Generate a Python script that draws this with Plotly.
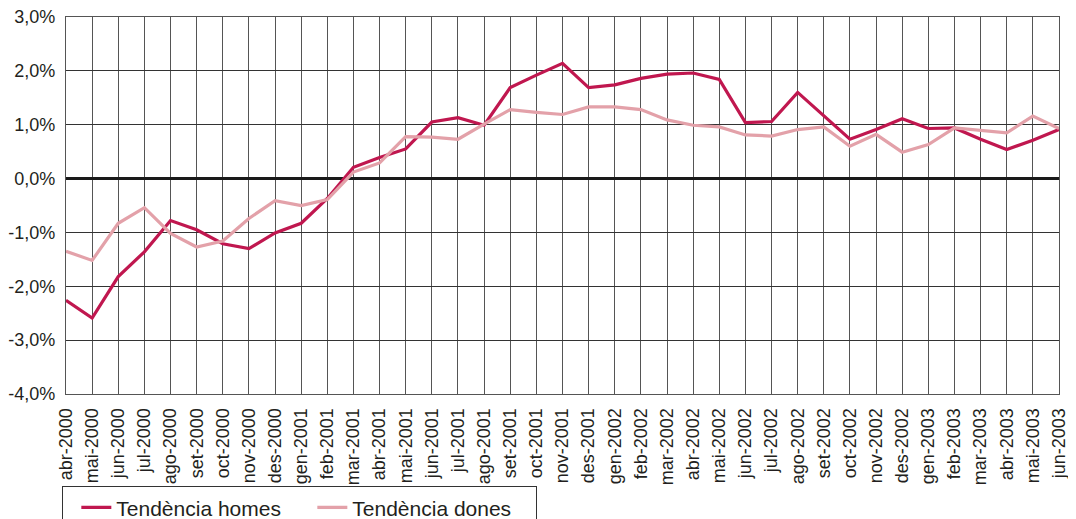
import plotly.graph_objects as go

months = ["abr-2000","mai-2000","jun-2000","jul-2000","ago-2000","set-2000","oct-2000","nov-2000","des-2000",
          "gen-2001","feb-2001","mar-2001","abr-2001","mai-2001","jun-2001","jul-2001","ago-2001","set-2001",
          "oct-2001","nov-2001","des-2001","gen-2002","feb-2002","mar-2002","abr-2002","mai-2002","jun-2002",
          "jul-2002","ago-2002","set-2002","oct-2002","nov-2002","des-2002","gen-2003","feb-2003","mar-2003",
          "abr-2003","mai-2003","jun-2003"]

homes = [-2.26,-2.59,-1.82,-1.36,-0.78,-0.95,-1.21,-1.30,-1.01,
         -0.83,-0.37,0.21,0.39,0.55,1.05,1.13,0.99,1.69,
         1.92,2.14,1.69,1.74,1.86,1.94,1.96,1.84,1.04,
         1.06,1.60,1.16,0.73,0.91,1.11,0.93,0.94,0.73,
         0.54,0.71,0.91]

dones = [-1.35,-1.52,-0.83,-0.54,-1.02,-1.27,-1.16,-0.74,-0.41,
         -0.50,-0.39,0.12,0.29,0.78,0.77,0.73,1.01,1.28,
         1.23,1.19,1.33,1.33,1.28,1.09,0.99,0.96,0.81,
         0.79,0.91,0.96,0.60,0.82,0.49,0.63,0.94,0.90,
         0.85,1.16,0.93]

y_ticks = [-4, -3, -2, -1, 0, 1, 2, 3]
y_tick_labels = ["-4,0%", "-3,0%", "-2,0%", "-1,0%", "0,0%", "1,0%", "2,0%", "3,0%"]

FONT = "Liberation Sans, Arial, sans-serif"
TXT = "#231f20"

fig = go.Figure()
fig.add_trace(go.Scatter(x=months, y=homes, mode="lines", name="Tendència homes",
                         line=dict(color="#c0174f", width=3.2)))
fig.add_trace(go.Scatter(x=months, y=dones, mode="lines", name="Tendència dones",
                         line=dict(color="#e3a1a9", width=3.2)))

fig.update_layout(
    width=1068, height=511,
    margin=dict(l=58, r=17, t=9, b=125, autoexpand=False),
    paper_bgcolor="white", plot_bgcolor="white",
    font=dict(family=FONT, color=TXT, size=18),
    showlegend=True,
    legend=dict(orientation="h", x=-0.004, xanchor="left", y=-0.244, yanchor="top",
                bordercolor="#333333", borderwidth=1.3, bgcolor="white",
                font=dict(size=21, family=FONT, color=TXT),
                itemwidth=30, entrywidth=178, indentation=13, traceorder="normal"),
)

fig.update_xaxes(type="category", range=[0, len(months) - 1], tickangle=-90,
                 showgrid=True, gridcolor="#555555", gridwidth=1,
                 showline=True, linecolor="#555555", linewidth=1.2, mirror=True,
                 ticks="outside", ticklen=6, tickcolor="rgba(0,0,0,0)",
                 tickfont=dict(size=18, family=FONT, color=TXT),
                 ticklabeloverflow="allow", zeroline=False)
fig.update_yaxes(range=[-4, 3], tickvals=y_ticks, ticktext=y_tick_labels,
                 showgrid=True, gridcolor="#333333", gridwidth=1,
                 showline=True, linecolor="#555555", linewidth=1.2, mirror=True,
                 zeroline=True, zerolinecolor="#1a1a1a", zerolinewidth=2.5,
                 ticks="outside", ticklen=6, tickcolor="rgba(0,0,0,0)",
                 tickfont=dict(size=18, family=FONT, color=TXT),
                 ticklabeloverflow="allow")

fig.write_html("out.html")
